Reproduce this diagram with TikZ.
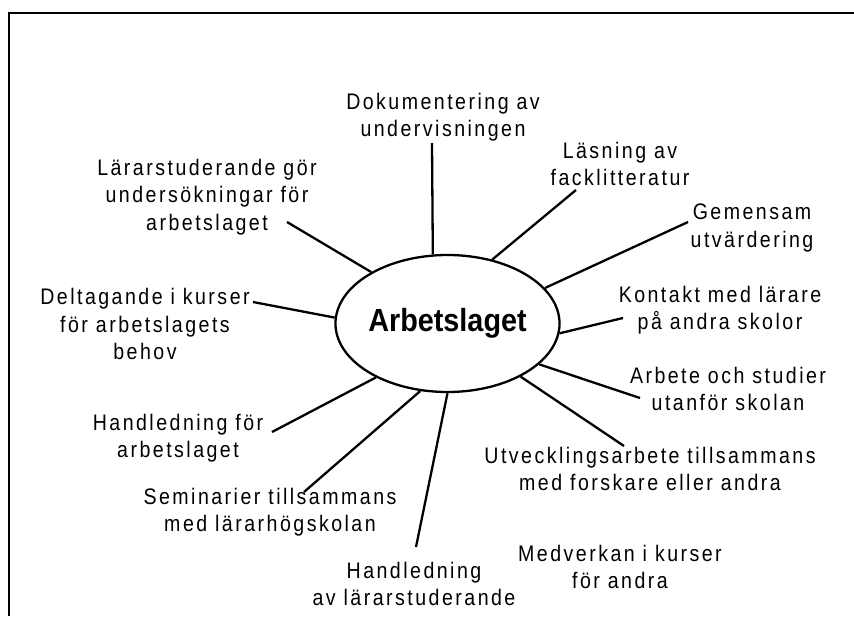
\documentclass[tikz,border=0pt]{standalone}
\usepackage{fontspec}
\setmainfont{Liberation Sans}
\newfontfamily\lblfont[LetterSpace=11, FakeStretch=0.87]{Liberation Sans}
\newfontfamily\hubfont[FakeStretch=0.9]{Liberation Sans}
\usetikzlibrary{shapes.geometric}
\tikzset{
  lbl/.style={align=center, inner sep=0pt, font=\lblfont\fontsize{22.5}{27.5}\selectfont},
  spoke/.style={black, line width=2.3pt},
}
\begin{document}
\begin{tikzpicture}[x=1pt,y=-1pt]
\useasboundingbox (0,0) rectangle (854,616);
\draw[black, line width=2.3pt] (9,616) -- (9,13) -- (854,13);
\node[draw, ellipse, line width=2.3pt, minimum width=223pt, minimum height=137pt, inner sep=0pt, font=\hubfont\bfseries\fontsize{32}{36}\selectfont] (hub) at (447.5,323.5) {Arbetslaget};
\node[lbl] (dok) at (443,117) {Dokumentering av\\undervisningen};
\node[lbl] (las) at (620,164) {Läsning av\\facklitteratur};
\node[lbl] (gem) at (752,228) {Gemensam\\utvärdering};
\node[lbl] (kon) at (720,310) {Kontakt med lärare\\på andra skolor};
\node[lbl] (arb) at (728,389) {Arbete och studier\\utanför skolan};
\node[lbl] (utv) at (650,469) {Utvecklingsarbete tillsammans\\med forskare eller andra};
\node[lbl] (med) at (620,567) {Medverkan i kurser\\för andra};
\node[lbl] (hav) at (414,584) {Handledning\\av lärarstuderande};
\node[lbl] (sem) at (270,512) {Seminarier tillsammans\\med lärarhögskolan};
\node[lbl] (hfa) at (178,438) {Handledning för\\arbetslaget};
\node[lbl] (del) at (145,324) {Deltagande i kurser\\för arbetslagets\\behov};
\node[lbl] (lar) at (207,197) {Lärarstuderande gör\\undersökningar för\\arbetslaget};
\coordinate (dok-end) at (432,143);
\coordinate (las-end) at (576,190);
\coordinate (gem-end) at (688,222);
\coordinate (kon-end) at (623,318);
\coordinate (arb-end) at (640,398);
\coordinate (utv-end) at (624,446);
\coordinate (hav-end) at (416,547);
\coordinate (sem-end) at (304,492);
\coordinate (hfa-end) at (272,432);
\coordinate (del-end) at (253,302);
\coordinate (lar-end) at (287,222);
\draw[spoke] (hub.102.7) -- (dok-end);
\draw[spoke] (hub.55.6) -- (las-end);
\draw[spoke] (hub.20.9) -- (gem-end);
\draw[spoke] (hub.-5.4) -- (kon-end);
\draw[spoke] (hub.-24) -- (arb-end);
\draw[spoke] (hub.-36.3) -- (utv-end);
\draw[spoke] (hub.-90) -- (hav-end);
\draw[spoke] (hub.-112.3) -- (sem-end);
\draw[spoke] (hub.-143.6) -- (hfa-end);
\draw[spoke] (hub.177.2) -- (del-end);
\draw[spoke] (hub.146.6) -- (lar-end);
\end{tikzpicture}
\end{document}
